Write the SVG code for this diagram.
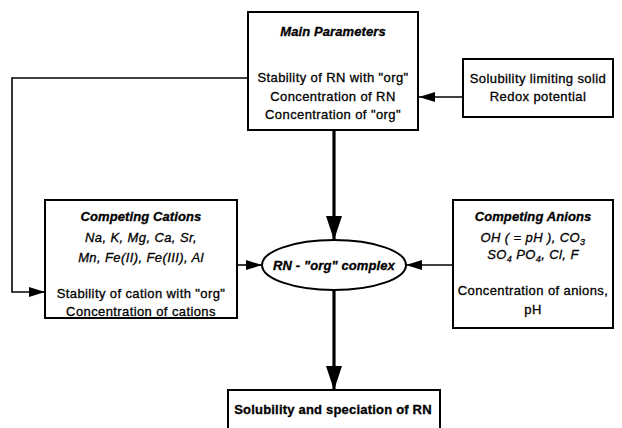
<svg xmlns="http://www.w3.org/2000/svg" width="622" height="428" viewBox="0 0 622 428">
<style>
.box{fill:#fff;stroke:#000;stroke-width:2}
.t{font-family:"Liberation Sans",Arial,sans-serif;font-size:13px;letter-spacing:0.4px;fill:#000;stroke:#000;stroke-width:0.3px;text-anchor:middle}
.h{font-weight:bold;font-style:italic;letter-spacing:0.1px}
.i{font-style:italic}
.b{font-weight:bold;letter-spacing:0.2px}
.thin{fill:none;stroke:#000;stroke-width:1.6}
.thick{fill:none;stroke:#000;stroke-width:3.2}
</style>
<defs>
<marker id="ah" markerUnits="userSpaceOnUse" markerWidth="16" markerHeight="10" refX="16" refY="5" orient="auto"><path d="M0,0 L16,5 L0,10 Z" fill="#000"/></marker>
<marker id="ahb" markerUnits="userSpaceOnUse" markerWidth="24" markerHeight="16" refX="24" refY="8" orient="auto"><path d="M0,0 L24,8 L0,16 Z" fill="#000"/></marker>
</defs>
<g id="connectors">
<polyline class="thin" points="248,78 12,78 12,292 45,292" marker-end="url(#ah)"/>
<line class="thin" x1="463" y1="97" x2="419" y2="97" marker-end="url(#ah)"/>
<line class="thin" x1="237" y1="265" x2="262" y2="265" marker-end="url(#ah)"/>
<line class="thin" x1="453" y1="265" x2="406" y2="265" marker-end="url(#ah)"/>
<line class="thick" x1="334" y1="130" x2="334" y2="240" marker-end="url(#ahb)"/>
<line class="thick" x1="334" y1="290" x2="334" y2="390" marker-end="url(#ahb)"/>
</g>
<g id="main-parameters">
<rect class="box" x="248" y="12" width="170" height="118"/>
<text class="t h" x="333" y="36">Main Parameters</text>
<text class="t" x="333" y="82">Stability of RN with "org"</text>
<text class="t" x="333" y="101">Concentration of RN</text>
<text class="t" x="333" y="119">Concentration of "org"</text>
</g>
<g id="solubility-limiting">
<rect class="box" x="463" y="59" width="150" height="58"/>
<text class="t" x="538" y="83">Solubility limiting solid</text>
<text class="t" x="538" y="101">Redox potential</text>
</g>
<g id="competing-cations">
<rect class="box" x="45" y="200" width="192" height="118"/>
<text class="t h" x="141" y="221">Competing Cations</text>
<text class="t i" x="141" y="242">Na, K, Mg, Ca, Sr,</text>
<text class="t i" x="141" y="262">Mn, Fe(II), Fe(III), Al</text>
<text class="t" x="141" y="298">Stability of cation with "org"</text>
<text class="t" x="141" y="316">Concentration of cations</text>
</g>
<g id="complex">
<ellipse cx="334" cy="265" rx="72" ry="25" fill="#fff" stroke="#000" stroke-width="2"/>
<text class="t h" x="334" y="270">RN - "org" complex</text>
</g>
<g id="competing-anions">
<rect class="box" x="453" y="200" width="160" height="128"/>
<text class="t h" x="533" y="221">Competing Anions</text>
<text class="t i" x="533" y="242">OH ( = pH ), CO<tspan dy="3" font-size="9">3</tspan></text>
<text class="t i" x="533" y="259">SO<tspan dy="3" font-size="9">4</tspan><tspan dy="-3"> PO</tspan><tspan dy="3" font-size="9">4</tspan><tspan dy="-3">, Cl, F</tspan></text>
<text class="t" x="533" y="295">Concentration of anions,</text>
<text class="t" x="533" y="314">pH</text>
</g>
<g id="solubility-speciation">
<rect class="box" x="228" y="390" width="212" height="50"/>
<text class="t b" x="333" y="414">Solubility and speciation of RN</text>
</g>
</svg>
